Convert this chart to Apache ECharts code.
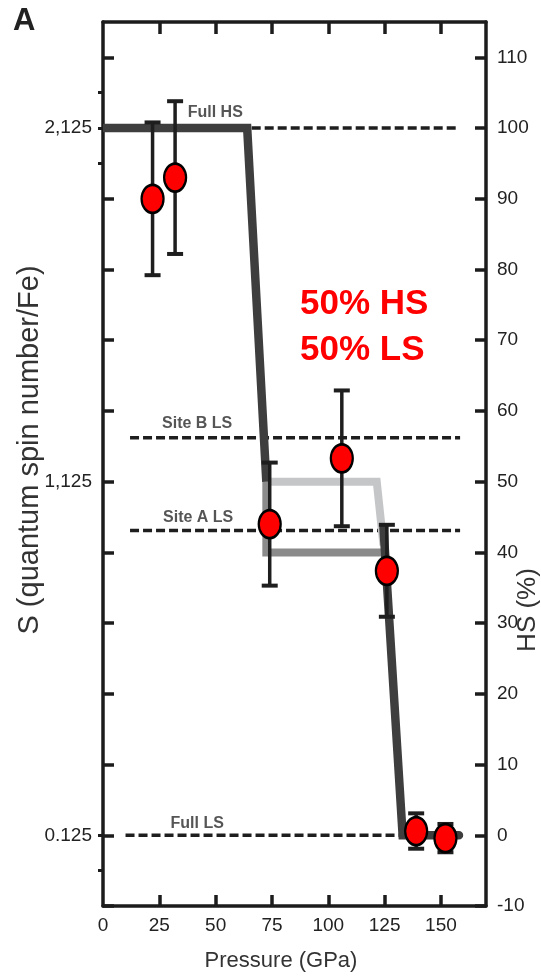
<!DOCTYPE html>
<html>
<head>
<meta charset="utf-8">
<script src="https://cdn.jsdelivr.net/npm/echarts@6/dist/echarts.min.js"></script>
<style>
  html, body { margin: 0; padding: 0; background: #fff; }
  #chart { width: 541px; height: 977px; }
</style>
</head>
<body>
<div id="chart"></div>
<script>
// Measured spin state: pressure (GPa), high-spin fraction (%) and its uncertainty
const pressure = [22, 32, 74, 106, 126, 139, 152];
const hsPercent = [90, 93, 44, 53.3, 37.4, 0.6, -0.4];
const hsError = [10.8, 10.8, 8.7, 9.6, 6.5, 2.5, 2.0];

// Model spin transition (dark path) before and after the intermediate plateau
const upperStepP = [0, 64, 72.5];
const upperStepHS = [100, 100, 50];
const lowerStepP = [124.5, 133, 158];
const lowerStepHS = [43.5, 0, 0];

// Intermediate plateau branches
const siteBBranchP = [72.5, 121.5, 124.5];
const siteBBranchHS = [50, 50, 41];
const siteABranchP = [72.5, 72.5, 124.5];
const siteABranchHS = [50, 40, 40];

// Reference spin levels
const refNames = ['Full HS', 'Site B LS', 'Site A LS', 'Full LS'];
const refLevels = [100, 56.2, 43.1, 0];
const refStart = [66, 12, 12, 10];
const refEnd = [157.5, 158.5, 158.5, 158];

// Axis ticks
const pressureTicks = [0, 25, 50, 75, 100, 125, 150];
const hsTicks = [-10, 0, 10, 20, 30, 40, 50, 60, 70, 80, 90, 100, 110];
const spinTickValues = [0, 50, 100];
const spinTickLabels = ['0.125', '1,125', '2,125'];

// Layout of the reference-level captions (pixel shift from each line start)
const refLabelShift = [[-64, -15], [32, -14], [33, -13], [45, -12]];

const tickFont = '"Liberation Sans", Arial, Helvetica, sans-serif';
const titleFont = '"Liberation Sans", Arial, Helvetica, sans-serif';
const ink = '#1c1c1c';

const chart = echarts.init(document.getElementById('chart'), null, { renderer: 'canvas' });

const zip = (xs, ys) => xs.map((x, i) => [x, ys[i]]);

const series = [];

refNames.forEach((name, i) => {
  series.push({
    type: 'line',
    name: name,
    data: [[refStart[i], refLevels[i]], [refEnd[i], refLevels[i]]],
    symbol: 'none',
    silent: true,
    z: 2,
    lineStyle: { color: '#1e1e1e', width: 3.5, type: [9, 4] }
  });
});

series.push({
  type: 'scatter',
  name: 'levelCaptions',
  data: refNames.map((n, i) => ({ value: [refStart[i], refLevels[i]], name: n })),
  symbolSize: 0,
  silent: true,
  z: 7,
  label: {
    show: true,
    formatter: p => p.name,
    position: 'inside',
    color: '#2a2a2a',
    fontFamily: titleFont,
    fontWeight: 'bold',
    fontSize: 16,
    align: 'left',
    verticalAlign: 'middle'
  },
  labelLayout: params => {
    const s = refLabelShift[params.dataIndex];
    return { x: params.rect.x + s[0], y: params.rect.y + s[1], align: 'left', verticalAlign: 'middle' };
  }
});

series.push({
  type: 'line', name: 'siteB branch', data: zip(siteBBranchP, siteBBranchHS),
  symbol: 'none', silent: true, z: 3,
  lineStyle: { color: '#c5c6c8', width: 8, join: 'miter' }
});
series.push({
  type: 'line', name: 'siteA branch', data: zip(siteABranchP, siteABranchHS),
  symbol: 'none', silent: true, z: 3,
  lineStyle: { color: '#8b8b8b', width: 8, join: 'miter' }
});
series.push({
  type: 'line', name: 'upper step', data: zip(upperStepP, upperStepHS),
  symbol: 'none', silent: true, z: 4,
  lineStyle: { color: '#3e3e3e', width: 8.5, join: 'miter' }
});
series.push({
  type: 'line', name: 'lower step', data: zip(lowerStepP, lowerStepHS),
  symbol: 'none', silent: true, z: 4,
  lineStyle: { color: '#3e3e3e', width: 8.5, join: 'miter', cap: 'round' }
});

series.push({
  type: 'custom',
  name: 'error bars',
  data: pressure.map((p, i) => [p, hsPercent[i], hsError[i]]),
  encode: { x: 0, y: 1 },
  z: 5,
  silent: true,
  renderItem: (params, api) => {
    const x = api.value(0), y = api.value(1), e = api.value(2);
    const top = api.coord([x, y + e]);
    const bot = api.coord([x, y - e]);
    const half = 8;
    const st = { stroke: '#1e1e1e', lineWidth: 3.5 };
    return {
      type: 'group',
      children: [
        { type: 'line', shape: { x1: top[0], y1: top[1], x2: bot[0], y2: bot[1] }, style: st },
        { type: 'line', shape: { x1: top[0] - half, y1: top[1], x2: top[0] + half, y2: top[1] }, style: { stroke: '#1e1e1e', lineWidth: 4 } },
        { type: 'line', shape: { x1: bot[0] - half, y1: bot[1], x2: bot[0] + half, y2: bot[1] }, style: { stroke: '#1e1e1e', lineWidth: 4 } }
      ]
    };
  }
});

series.push({
  type: 'scatter',
  name: 'HS fraction',
  data: zip(pressure, hsPercent),
  symbol: 'circle',
  symbolSize: [22, 28],
  z: 6,
  itemStyle: { color: '#ff0000', borderColor: '#000', borderWidth: 2.5, opacity: 1 }
});

const frameLine = { show: true, onZero: false, lineStyle: { color: ink, width: 3.5 } };

const option = {
  animation: false,
  backgroundColor: '#ffffff',
  grid: { left: 103, right: 55, top: 22, bottom: 71, containLabel: false, outerBoundsMode: 'none' },
  xAxis: [
    {
      type: 'value', position: 'bottom', min: 0, max: 170,
      axisLine: frameLine,
      splitLine: { show: false },
      axisTick: { show: true, inside: true, length: 11, lineStyle: { color: ink, width: 3.5 }, customValues: pressureTicks.slice(1) },
      axisLabel: { show: true, customValues: pressureTicks, margin: 10, color: '#222', fontSize: 19, fontFamily: tickFont },
      name: 'Pressure (GPa)',
      nameLocation: 'middle',
      nameGap: 44,
      nameTextStyle: { fontSize: 22, color: '#333', fontFamily: titleFont, padding: [0, 27, 0, 0] }
    },
    {
      type: 'value', position: 'top', min: 0, max: 170,
      axisLine: frameLine,
      splitLine: { show: false },
      axisTick: { show: true, inside: true, length: 12, lineStyle: { color: ink, width: 3.5 }, customValues: pressureTicks.slice(1) },
      axisLabel: { show: false }
    }
  ],
  yAxis: [
    {
      type: 'value', position: 'left', min: -10, max: 115,
      axisLine: frameLine,
      splitLine: { show: false },
      axisTick: { show: true, inside: true, length: 11, lineStyle: { color: ink, width: 3.5 }, customValues: hsTicks },
      axisLabel: {
        show: true, customValues: spinTickValues, margin: 11, color: '#222', fontSize: 19, fontFamily: tickFont,
        formatter: v => spinTickLabels[spinTickValues.indexOf(v)]
      }
    },
    {
      type: 'value', position: 'right', min: -10, max: 115,
      axisLine: frameLine,
      splitLine: { show: false },
      axisTick: { show: true, inside: true, length: 11, lineStyle: { color: ink, width: 3.5 }, customValues: hsTicks },
      axisLabel: { show: true, customValues: hsTicks, margin: 11, color: '#222', fontSize: 19, fontFamily: tickFont }
    },
    {
      type: 'value', position: 'left', min: -10, max: 115,
      axisLine: { show: false },
      splitLine: { show: false },
      axisTick: { show: true, inside: false, length: 5, lineStyle: { color: ink, width: 3 }, customValues: [-5, 0, 95, 100, 105] },
      axisLabel: { show: false }
    }
  ],
  graphic: [
    {
      type: 'text', left: 13, top: 6,
      style: { text: 'A', font: 'bold 31px ' + titleFont, fill: '#222' }
    },
    {
      type: 'text', x: 30, y: 450, rotation: Math.PI / 2,
      style: { text: 'S (quantum spin number/Fe)', font: '29px ' + titleFont, fill: '#333', align: 'center', verticalAlign: 'middle' }
    },
    {
      type: 'text', x: 528, y: 610, rotation: Math.PI / 2,
      style: { text: 'HS (%)', font: '26px ' + titleFont, fill: '#333', align: 'center', verticalAlign: 'middle' }
    },
    {
      type: 'text', x: 300, y: 304,
      style: { text: '50% HS', font: 'bold 35px ' + titleFont, fill: '#ff0000', align: 'left', verticalAlign: 'middle' }
    },
    {
      type: 'text', x: 300, y: 350,
      style: { text: '50% LS', font: 'bold 35px ' + titleFont, fill: '#ff0000', align: 'left', verticalAlign: 'middle' }
    }
  ],
  series: series
};

chart.setOption(option);
</script>
</body>
</html>
